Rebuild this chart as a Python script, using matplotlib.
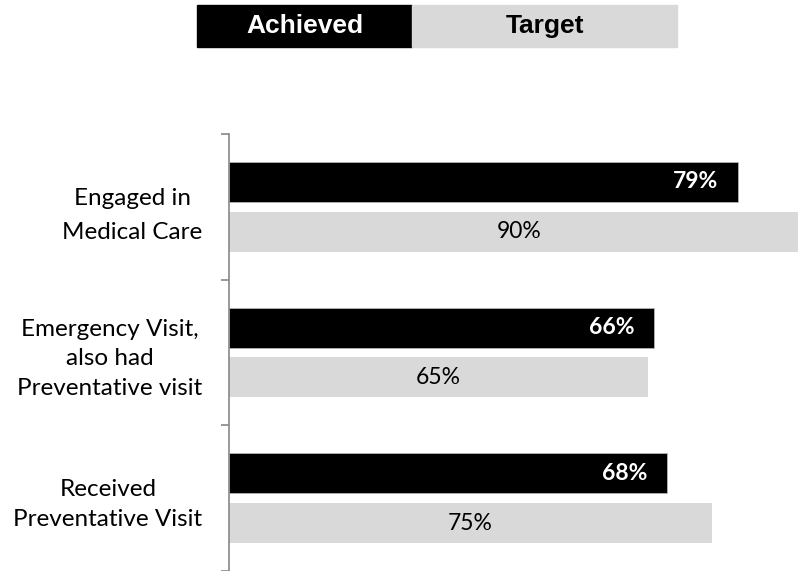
import numpy as np
import matplotlib.pyplot as plt
from matplotlib.patches import Rectangle

# data
categories = ['Engaged in\nMedical Care',
              'Emergency Visit,\nalso had\nPreventative visit',
              'Received\nPreventative Visit']
achieved = [0.79, 0.66, 0.68]
target = [0.90, 0.65, 0.75]
series_names = ['Achieved', 'Target']

W, H = 798, 571
fig = plt.figure(figsize=(W / 100, H / 100), dpi=100)

# axis runs past the right edge of the figure, like the original
ax = fig.add_axes([229 / W, 0, 644 / W, (H - 134) / H])

y = np.arange(len(categories))
h = 40 / 145.7
off = 25 / 145.7
ax.barh(y - off, achieved, height=h, color='black', edgecolor='#bfbfbf', linewidth=0.5)
ax.barh(y + off, target, height=h, color='#d9d9d9', edgecolor='none')

for yi, a, t in zip(y, achieved, target):
    ax.text(a - 0.03, yi - off, f'{a:.0%}', ha='right', va='center',
            color='white', fontweight='bold', fontsize=16.5, family='Lato')
    ax.text(t / 2, yi + off, f'{t:.0%}', ha='center', va='center',
            color='black', fontsize=16.5, family='Lato')

ax.set_xlim(0, 1)
ax.set_ylim(len(categories) - 0.5, -0.5)
ax.set_xticks([])
ax.set_yticks(np.arange(len(categories) + 1) - 0.5)
ax.set_yticklabels([])
ax.set_yticks(y, minor=True)
ax.set_yticklabels(categories, minor=True, fontsize=17.5, family='Lato')
for i, lab in enumerate(ax.get_yticklabels(minor=True)):
    lab.set_multialignment('center')
    lab.set_linespacing(1.75 if i == 0 else 1.5)
ax.tick_params(axis='y', which='major', length=6, width=1.2, color='#888888', direction='out')
ax.tick_params(axis='y', which='minor', length=0, pad=19)
for s in ['top', 'right', 'bottom']:
    ax.spines[s].set_visible(False)
ax.spines['left'].set_color('#888888')
ax.spines['left'].set_linewidth(1.2)

# legend boxes at top
fig.patches.append(Rectangle((197 / W, 1 - 47 / H), 215 / W, 42 / H,
                             transform=fig.transFigure, color='black'))
fig.patches.append(Rectangle((412 / W, 1 - 47 / H), 265 / W, 42 / H,
                             transform=fig.transFigure, color='#d9d9d9'))
fig.text(305 / W, 1 - 26 / H, series_names[0], ha='center', va='center', color='white',
         fontsize=19, fontweight='bold', family='Liberation Sans')
fig.text(545 / W, 1 - 26 / H, series_names[1], ha='center', va='center', color='black',
         fontsize=19, fontweight='bold', family='Liberation Sans')

fig.savefig('out.png', dpi=100)
